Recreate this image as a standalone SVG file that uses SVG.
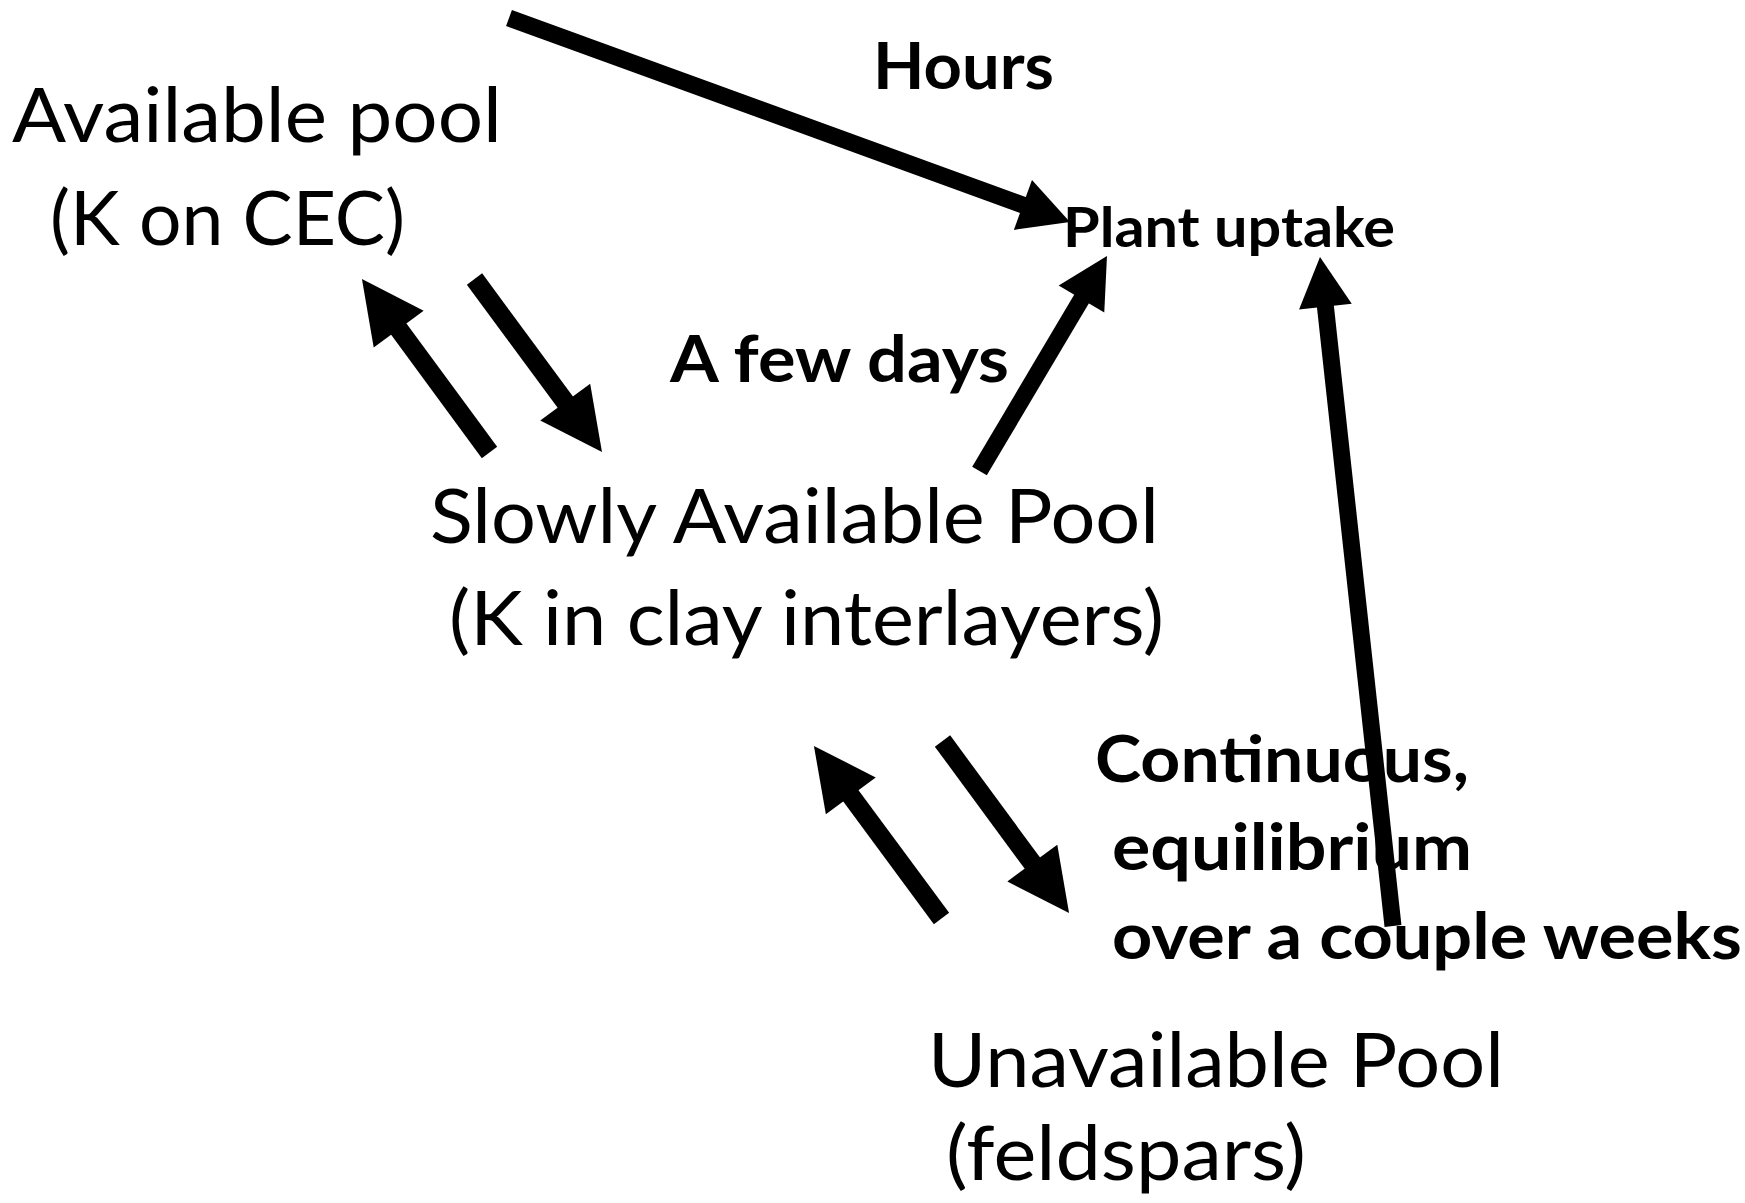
<svg xmlns="http://www.w3.org/2000/svg" width="1745" height="1203" viewBox="0 0 1745 1203">
<defs>
<style>
.node{font-family:Lato,"Liberation Sans",sans-serif;font-size:76px;fill:#000}
.lbl{font-family:Lato,"Liberation Sans",sans-serif;font-size:65px;font-weight:bold;fill:#000}
.plant{font-family:Lato,"Liberation Sans",sans-serif;font-size:55px;font-weight:bold;fill:#000}
.big{stroke:#000;stroke-width:19;fill:none;marker-end:url(#hb)}
.small{stroke:#000;stroke-width:17;fill:none;marker-end:url(#hs)}
</style>
<marker id="hb" markerUnits="userSpaceOnUse" markerWidth="64" markerHeight="64" refX="2" refY="31" orient="auto" overflow="visible">
<path d="M0,0 L62,31 L0,62 Z" fill="#000"/>
</marker>
<marker id="hs" markerUnits="userSpaceOnUse" markerWidth="52" markerHeight="55" refX="2" refY="26.5" orient="auto" overflow="visible">
<path d="M0,0 L50,26.5 L0,53 Z" fill="#000"/>
</marker>
</defs>
<rect width="1745" height="1203" fill="#fff"/>
<g id="n-available">
<text class="node" x="12" y="142" textLength="490" lengthAdjust="spacingAndGlyphs">Available pool</text>
<text class="node" x="50" y="245" textLength="355" lengthAdjust="spacingAndGlyphs">(K on CEC)</text>
</g>
<g id="n-plant">
<text class="plant" x="1063" y="247" textLength="332" lengthAdjust="spacingAndGlyphs">Plant uptake</text>
</g>
<g id="n-slowly">
<text class="node" x="430" y="543" textLength="729" lengthAdjust="spacingAndGlyphs">Slowly Available Pool</text>
<text class="node" x="449" y="645" textLength="715" lengthAdjust="spacingAndGlyphs">(K in clay interlayers)</text>
</g>
<g id="n-unavailable">
<text class="node" x="928" y="1087" textLength="576" lengthAdjust="spacingAndGlyphs">Unavailable Pool</text>
<text class="node" x="946" y="1180" textLength="360" lengthAdjust="spacingAndGlyphs">(feldspars)</text>
</g>
<g id="connectors">
<line class="small" x1="509" y1="18" x2="1024.8" y2="205.7"/>
<line class="big" x1="489.5" y1="452.5" x2="397.5" y2="327.4"/>
<line class="big" x1="474.5" y1="279" x2="566.4" y2="403.7"/>
<line class="small" x1="979.5" y1="471" x2="1082.5" y2="297.3"/>
<line class="small" x1="1393" y1="926" x2="1325.2" y2="304.7"/>
<line class="big" x1="941.5" y1="918.5" x2="849.6" y2="794.2"/>
<line class="big" x1="942.5" y1="741" x2="1033.5" y2="864.7"/>
<text class="lbl" x="873" y="89" textLength="181" lengthAdjust="spacingAndGlyphs">Hours</text>
<text class="lbl" x="670" y="382" textLength="339" lengthAdjust="spacingAndGlyphs">A few days</text>
<text class="lbl" x="1095" y="782" textLength="374" lengthAdjust="spacingAndGlyphs">Continuous,</text>
<text class="lbl" x="1112" y="870" textLength="360" lengthAdjust="spacingAndGlyphs">equilibrium</text>
<text class="lbl" x="1112" y="959" textLength="630" lengthAdjust="spacingAndGlyphs">over a couple weeks</text>
</g>
</svg>
